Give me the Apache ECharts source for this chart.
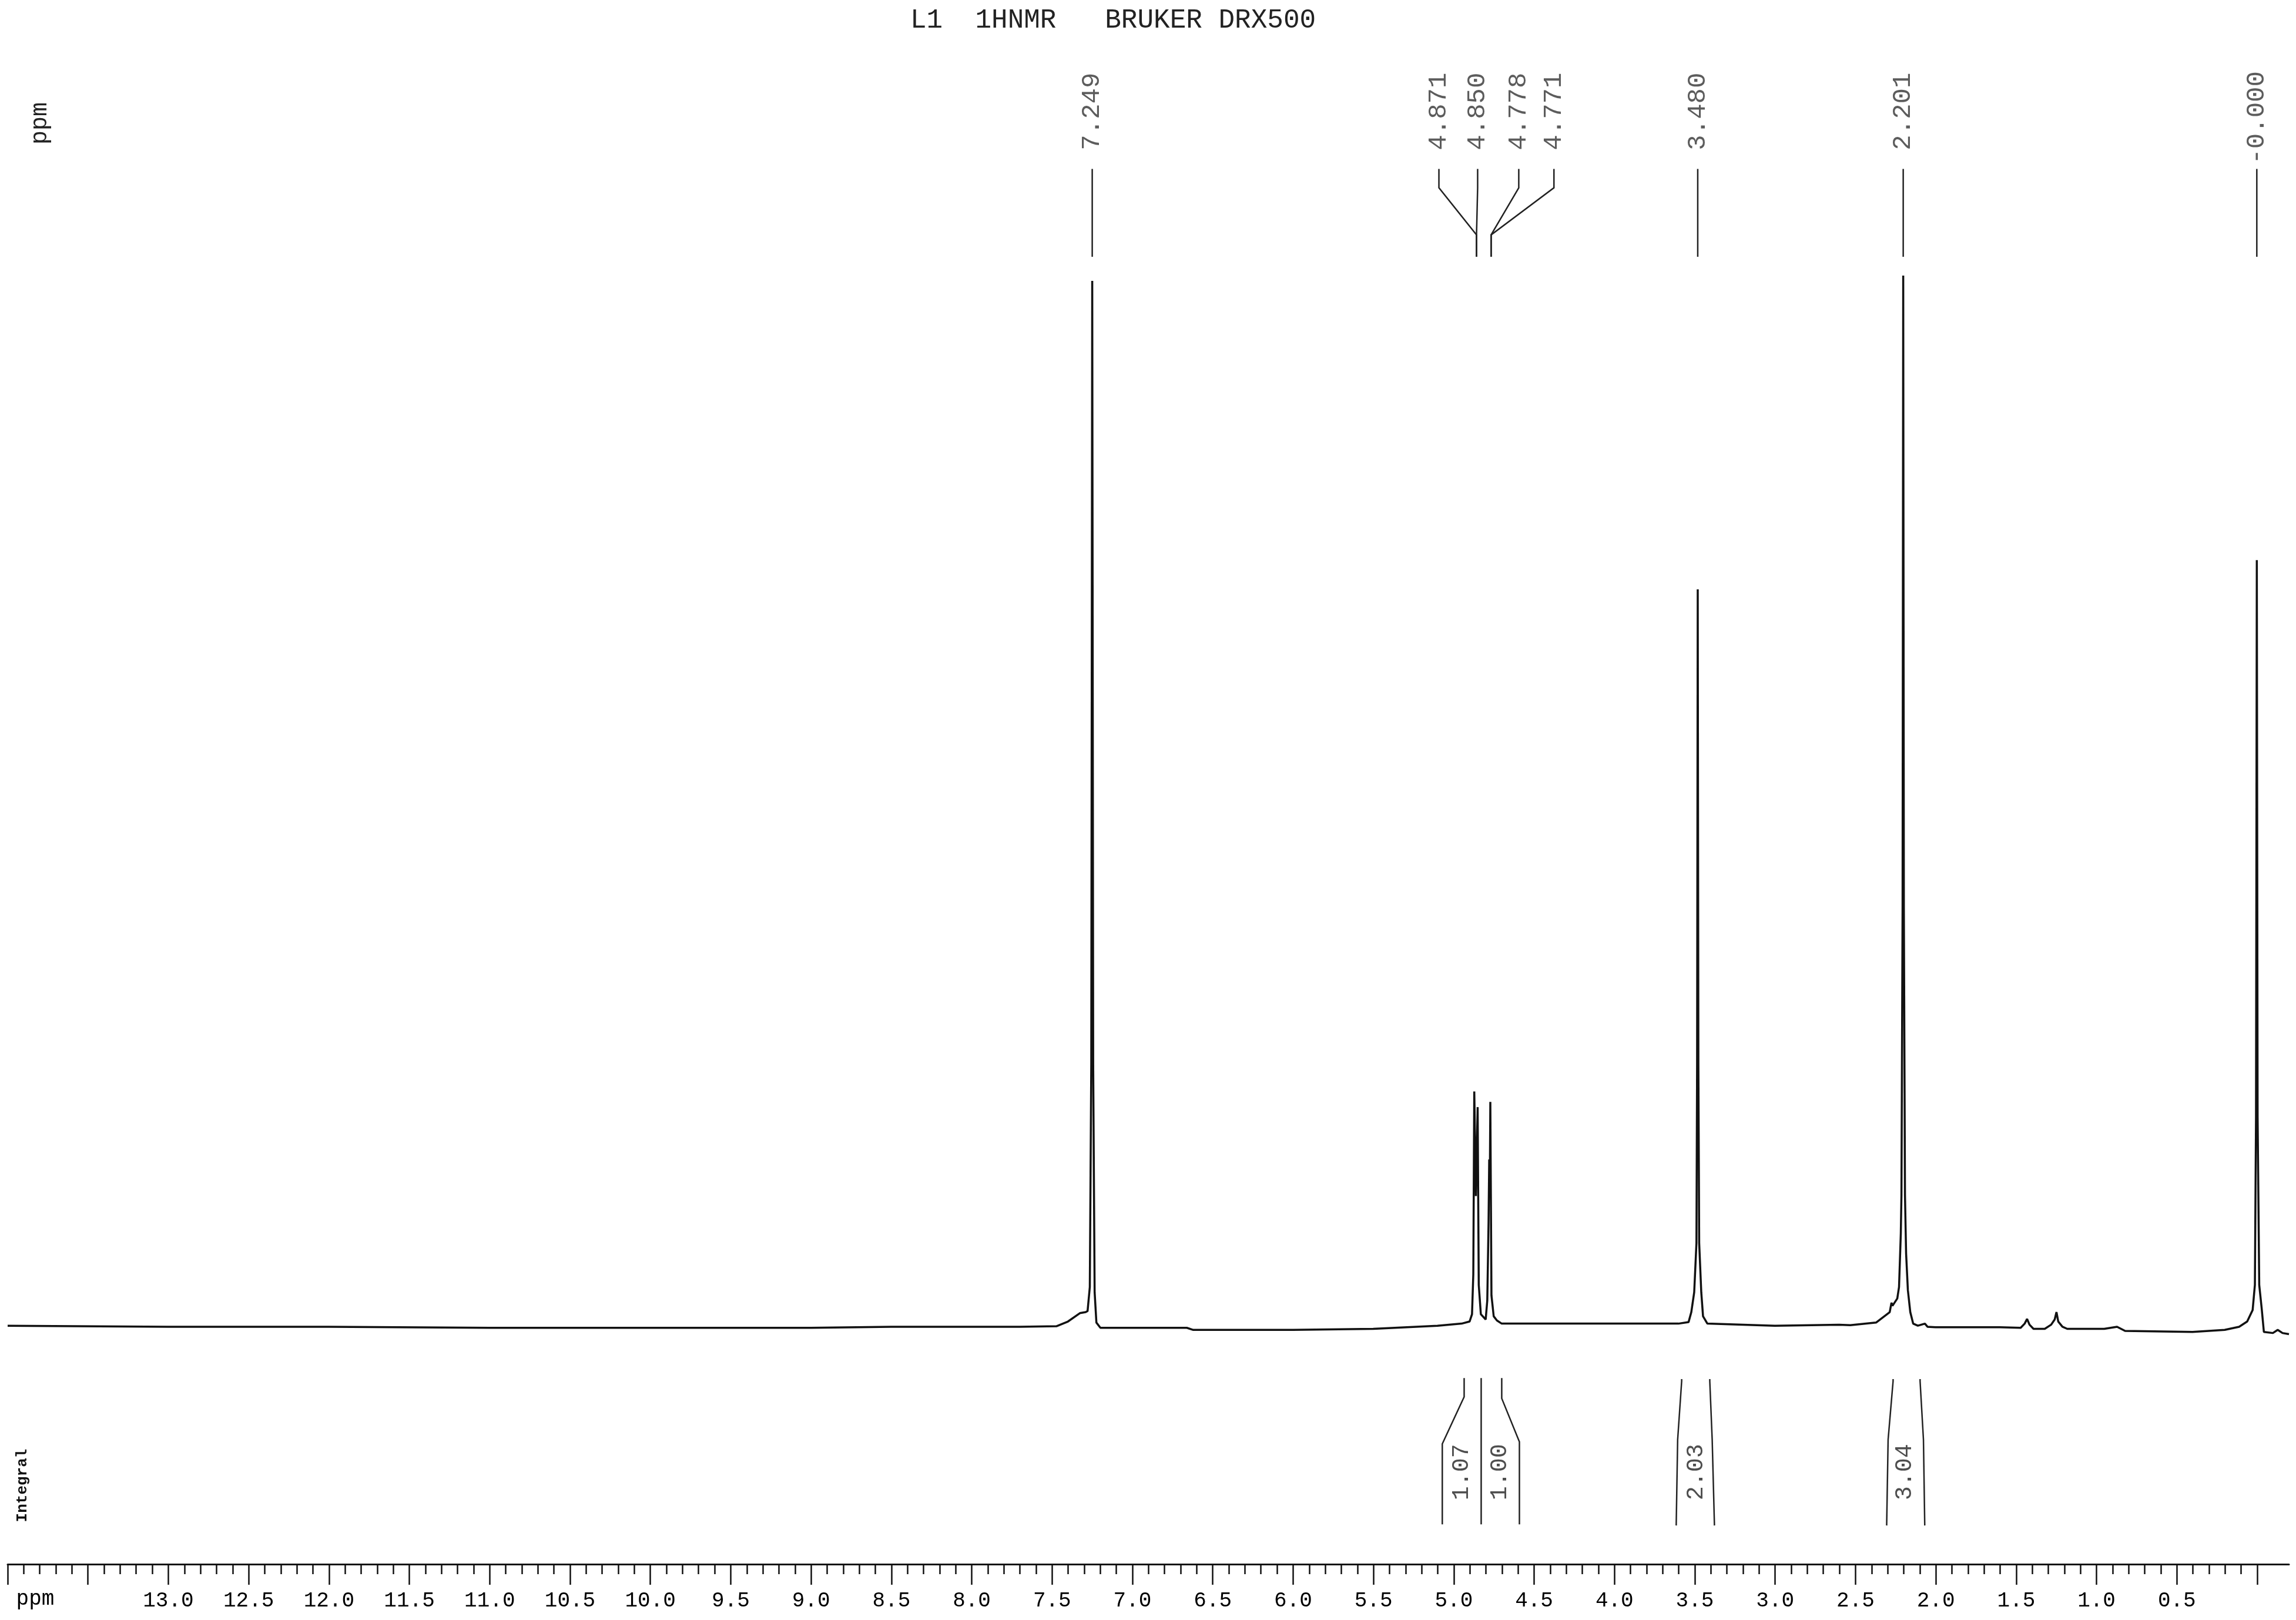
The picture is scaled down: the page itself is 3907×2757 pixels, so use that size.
<!DOCTYPE html>
<html>
<head>
    <meta charset="utf-8">
    <title>L1 1HNMR BRUKER DRX500</title>
    <script src="https://cdn.jsdelivr.net/npm/echarts@6/dist/echarts.min.js"></script>
    <style>
        html, body { margin: 0; padding: 0; background: #fff; }
        #main { width: 3907px; height: 2757px; }
    </style>
</head>
<body>
    <div id="main"></div>
    <script>
        // spectrum trace: [ppm, intensity] (tallest line = 100)
        var spectrum = [
            [14.0, 0.1], [13.0, 0.0], [12.0, 0.0], [11.0, -0.1], [10.0, -0.1], [9.0, -0.1], [8.5, 0.0], [8.0, 0.0], [7.7, 0.0],
            [7.472, 0.05], [7.40, 0.5], [7.326, 1.3], [7.29, 1.4], [7.278, 1.5], [7.264, 3.8], [7.255, 25], [7.249, 100],
            [7.243, 25], [7.234, 3.3], [7.223, 0.4], [7.198, -0.1],
            [6.66, -0.1], [6.62, -0.3], [6.0, -0.3], [5.5, -0.2], [5.1, 0.1], [4.95, 0.3], [4.90, 0.5],
            [4.885, 1.2], [4.877, 5], [4.871, 22.5], [4.861, 12.5], [4.850, 21], [4.843, 4], [4.83, 1.2], [4.80, 0.7],
            [4.79, 2.5], [4.782, 10], [4.778, 16], [4.774, 14], [4.771, 21.5], [4.764, 3], [4.75, 1.0], [4.73, 0.6], [4.70, 0.3],
            [4.2, 0.3], [3.8, 0.3], [3.6, 0.3], [3.537, 0.45], [3.52, 1.4], [3.502, 3.3], [3.488, 8], [3.484, 25], [3.480, 70.5],
            [3.476, 25], [3.471, 8], [3.458, 3.3], [3.447, 1.0], [3.42, 0.3],
            [3.0, 0.1], [2.6, 0.2], [2.53, 0.15], [2.37, 0.4], [2.285, 1.4], [2.274, 2.3], [2.268, 2.0], [2.238, 2.7],
            [2.227, 3.8], [2.216, 8.9], [2.212, 12.6], [2.205, 40], [2.201, 100.5], [2.197, 40], [2.19, 12.6], [2.183, 7],
            [2.172, 3.5], [2.157, 1.4], [2.139, 0.3], [2.11, 0.1], [2.066, 0.3], [2.05, 0.0], [2.0, -0.05],
            [1.6, -0.05], [1.47, -0.1], [1.445, 0.3], [1.43, 0.75], [1.415, 0.2], [1.39, -0.2], [1.32, -0.2], [1.28, 0.2],
            [1.258, 0.7], [1.247, 1.4], [1.236, 0.5], [1.21, 0.0], [1.18, -0.2], [0.95, -0.2], [0.87, 0.0], [0.82, -0.4],
            [0.4, -0.5], [0.2, -0.3], [0.11, 0.0], [0.06, 0.5], [0.026, 1.6], [0.012, 4], [0.005, 20], [0.0, 73.3],
            [-0.005, 20], [-0.015, 4], [-0.03, 1.8], [-0.044, -0.5], [-0.1, -0.6], [-0.13, -0.3], [-0.16, -0.6], [-0.2, -0.7]
        ];

        // peak picking labels
        var peakLabels = ['7.249', '4.871', '4.850', '4.778', '4.771', '3.480', '2.201', '-0.000'];
        var peakLabelPpm = [7.249, 5.091, 4.850, 4.594, 4.375, 3.480, 2.201, 0.000];
        var peakFootPpm = [7.249, 4.857, 4.857, 4.766, 4.766, 3.480, 2.201, 0.000];
        var peakLabelLevel = [116.2, 116.2, 116.2, 116.2, 116.2, 116.2, 116.2, 115.6];
        // connector: top, first bend, second bend, bottom (intensity units)
        var connectorLevels = [110.7, 108.9, 104.4, 102.3];

        // integrals
        var integralValues = ['1.07', '1.00', '2.03', '3.04'];
        var integralLabelPpm = [4.95, 4.71, 3.49, 2.19];
        var integralLabelLevel = -13.9;
        var integralBrackets = [
            [[5.07, -18.9], [5.07, -11.2], [4.934, -6.7], [4.934, -4.9]],
            [[4.828, -18.9], [4.828, -4.9]],
            [[4.59, -18.9], [4.59, -11.0], [4.70, -6.85], [4.70, -4.9]],
            [[3.614, -19.0], [3.605, -10.8], [3.58, -5.2], [3.58, -5.0]],
            [[3.376, -19.0], [3.39, -10.8], [3.405, -5.2], [3.405, -5.0]],
            [[2.304, -19.0], [2.295, -10.8], [2.264, -5.2], [2.264, -5.0]],
            [[2.067, -19.0], [2.075, -10.8], [2.096, -5.2], [2.096, -5.0]]
        ];

        var mono = '"Liberation Mono", "DejaVu Sans Mono", monospace';
        var ink = '#111';

        var connectors = peakLabels.map(function (t, i) {
            var a = peakLabelPpm[i], b = peakFootPpm[i];
            return {
                coords: [[a, connectorLevels[0]], [a, connectorLevels[1]], [b, connectorLevels[2]], [b, connectorLevels[3]]]
            };
        });

        var myChart = echarts.init(document.getElementById('main'));
        myChart.setOption({
            animation: false,
            backgroundColor: '#fff',
            grid: [
                // data grid: 14.0 .. -0.2 ppm
                { left: 13, right: 12, top: 86.4, bottom: 95, outerBoundsMode: 'none' },
                // scale grid: 14.0 .. 0.0 ppm, same px per ppm
                { left: 13, right: 66, top: 86.4, bottom: 95, outerBoundsMode: 'none' }
            ],
            xAxis: [
                {
                    gridIndex: 0,
                    type: 'value',
                    inverse: true,
                    min: -0.2,
                    max: 14,
                    axisLine: { show: true, onZero: false, lineStyle: { color: ink, width: 3 } },
                    axisTick: { show: false },
                    axisLabel: { show: false },
                    splitLine: { show: false }
                },
                {
                    gridIndex: 1,
                    type: 'value',
                    inverse: true,
                    min: 0,
                    max: 14,
                    interval: 0.5,
                    axisLine: { show: false },
                    axisTick: { show: true, inside: false, length: 35, lineStyle: { color: ink, width: 2.5 } },
                    minorTick: { show: true, splitNumber: 5, length: 17, lineStyle: { color: ink, width: 2.5 } },
                    splitLine: { show: false },
                    minorSplitLine: { show: false },
                    axisLabel: {
                        margin: 44,
                        fontFamily: mono,
                        fontSize: 36,
                        color: '#000',
                        formatter: function (v) {
                            if (v > 13.01 || v < 0.49) return '';
                            return v.toFixed(1);
                        }
                    }
                }
            ],
            yAxis: [
                { gridIndex: 0, type: 'value', min: -22.7, max: 122, show: false },
                { gridIndex: 1, type: 'value', min: 0, max: 1, show: false }
            ],
            graphic: [
                {
                    type: 'text', left: 1894 - 345, top: 12,
                    style: { text: 'L1  1HNMR   BRUKER DRX500', font: '46px ' + mono, fill: '#222' }
                },
                {
                    type: 'text', x: 68, y: 210, rotation: Math.PI / 2,
                    style: { text: 'ppm', font: '40px ' + mono, fill: '#222', align: 'center', verticalAlign: 'middle' }
                },
                {
                    type: 'text', x: 38, y: 2528, rotation: Math.PI / 2,
                    style: { text: 'Integral', font: 'bold 26px ' + mono, fill: ink, align: 'center', verticalAlign: 'middle' }
                },
                {
                    type: 'text', x: 60, y: 2721,
                    style: { text: 'ppm', font: '36px ' + mono, fill: '#000', align: 'center', verticalAlign: 'middle' }
                }
            ],
            series: [
                {
                    name: 'spectrum',
                    type: 'line',
                    data: spectrum,
                    showSymbol: false,
                    smooth: false,
                    lineStyle: { color: ink, width: 3.5 }
                },
                {
                    name: 'connectors',
                    type: 'lines',
                    coordinateSystem: 'cartesian2d',
                    polyline: true,
                    data: connectors,
                    lineStyle: { color: '#222', width: 2.5, opacity: 1 }
                },
                {
                    name: 'integrals',
                    type: 'lines',
                    coordinateSystem: 'cartesian2d',
                    polyline: true,
                    data: integralBrackets.map(function (c) { return { coords: c }; }),
                    lineStyle: { color: '#222', width: 2.5, opacity: 1 }
                },
                {
                    name: 'peak labels',
                    type: 'scatter',
                    symbolSize: 1,
                    itemStyle: { color: 'rgba(0,0,0,0)' },
                    data: peakLabels.map(function (t, i) {
                        return { name: t, value: [peakLabelPpm[i], peakLabelLevel[i]] };
                    }),
                    label: {
                        show: true,
                        position: 'inside',
                        rotate: 90,
                        formatter: '{b}',
                        fontFamily: mono,
                        fontSize: 44,
                        color: '#333'
                    }
                },
                {
                    name: 'integral labels',
                    type: 'scatter',
                    symbolSize: 1,
                    itemStyle: { color: 'rgba(0,0,0,0)' },
                    data: integralValues.map(function (t, i) {
                        return { name: t, value: [integralLabelPpm[i], integralLabelLevel] };
                    }),
                    label: {
                        show: true,
                        position: 'inside',
                        rotate: 90,
                        formatter: '{b}',
                        fontFamily: mono,
                        fontSize: 40,
                        color: '#222'
                    }
                }
            ]
        });
    </script>
</body>
</html>
